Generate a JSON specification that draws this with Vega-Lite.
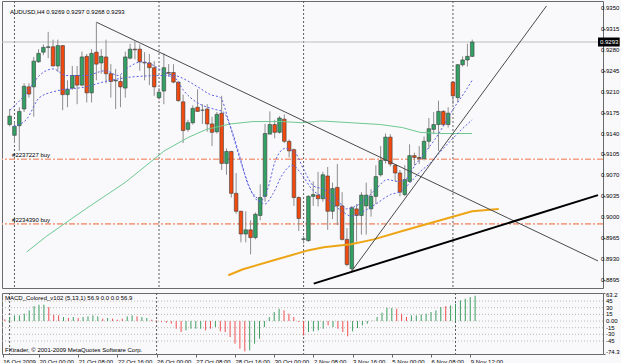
{
  "$schema": "https://vega.github.io/schema/vega-lite/v6.json",
  "padding": 0,
  "background": "#F9F9FC",
  "spacing": 2,
  "config": {
    "view": {"stroke": "#6A6A6A", "strokeWidth": 1},
    "axis": {"labelFont": "Liberation Sans", "labelFontSize": 6, "labelColor": "#000000", "tickColor": "#666666", "domain": false, "grid": false, "title": null, "labelOverlap": false},
    "text": {"font": "Liberation Sans", "fontSize": 6, "color": "#000000"}
  },
  "datasets": {
    "candles": [
      {"i":0,"o":0.9155,"h":0.9181,"l":0.9152,"c":0.9169},
      {"i":1,"o":0.9137,"h":0.9160,"l":0.9124,"c":0.9152},
      {"i":2,"o":0.9153,"h":0.9184,"l":0.9111,"c":0.9177},
      {"i":3,"o":0.9181,"h":0.9224,"l":0.9176,"c":0.9219},
      {"i":4,"o":0.9218,"h":0.9224,"l":0.9200,"c":0.9206},
      {"i":5,"o":0.9218,"h":0.9268,"l":0.9168,"c":0.9261},
      {"i":6,"o":0.9260,"h":0.9281,"l":0.9258,"c":0.9274},
      {"i":7,"o":0.9276,"h":0.9289,"l":0.9271,"c":0.9284},
      {"i":8,"o":0.9284,"h":0.9310,"l":0.9266,"c":0.9285},
      {"i":9,"o":0.9285,"h":0.9297,"l":0.9252,"c":0.9253},
      {"i":10,"o":0.9253,"h":0.9297,"l":0.9243,"c":0.9287},
      {"i":11,"o":0.9287,"h":0.9288,"l":0.9179,"c":0.9205},
      {"i":12,"o":0.9205,"h":0.9229,"l":0.9184,"c":0.9214},
      {"i":13,"o":0.9216,"h":0.9253,"l":0.9213,"c":0.9237},
      {"i":14,"o":0.9237,"h":0.9253,"l":0.9189,"c":0.9221},
      {"i":15,"o":0.9221,"h":0.9277,"l":0.9219,"c":0.9268},
      {"i":16,"o":0.9269,"h":0.9273,"l":0.9192,"c":0.9208},
      {"i":17,"o":0.9208,"h":0.9281,"l":0.9192,"c":0.9274},
      {"i":18,"o":0.9276,"h":0.9326,"l":0.9229,"c":0.9256},
      {"i":19,"o":0.9258,"h":0.9281,"l":0.9240,"c":0.9269},
      {"i":20,"o":0.9268,"h":0.9297,"l":0.9224,"c":0.9240},
      {"i":21,"o":0.9240,"h":0.9256,"l":0.9200,"c":0.9227},
      {"i":22,"o":0.9228,"h":0.9248,"l":0.9181,"c":0.9229},
      {"i":23,"o":0.9227,"h":0.9237,"l":0.9184,"c":0.9218},
      {"i":24,"o":0.9216,"h":0.9277,"l":0.9200,"c":0.9268},
      {"i":25,"o":0.9266,"h":0.9290,"l":0.9264,"c":0.9281},
      {"i":26,"o":0.9281,"h":0.9294,"l":0.9264,"c":0.9280},
      {"i":27,"o":0.9281,"h":0.9289,"l":0.9245,"c":0.9260},
      {"i":28,"o":0.9259,"h":0.9276,"l":0.9229,"c":0.9258},
      {"i":29,"o":0.9258,"h":0.9273,"l":0.9221,"c":0.9250},
      {"i":30,"o":0.9250,"h":0.9261,"l":0.9203,"c":0.9218},
      {"i":31,"o":0.9200,"h":0.9216,"l":0.9197,"c":0.9209},
      {"i":32,"o":0.9211,"h":0.9274,"l":0.9189,"c":0.9250},
      {"i":33,"o":0.9242,"h":0.9256,"l":0.9235,"c":0.9241},
      {"i":34,"o":0.9242,"h":0.9256,"l":0.9224,"c":0.9226},
      {"i":35,"o":0.9226,"h":0.9227,"l":0.9193,"c":0.9195},
      {"i":36,"o":0.9193,"h":0.9205,"l":0.9124,"c":0.9145},
      {"i":37,"o":0.9147,"h":0.9163,"l":0.9143,"c":0.9158},
      {"i":38,"o":0.9158,"h":0.9187,"l":0.9155,"c":0.9182},
      {"i":39,"o":0.9184,"h":0.9214,"l":0.9176,"c":0.9177},
      {"i":40,"o":0.9179,"h":0.9189,"l":0.9156,"c":0.9179},
      {"i":41,"o":0.9181,"h":0.9189,"l":0.9143,"c":0.9156},
      {"i":42,"o":0.9156,"h":0.9168,"l":0.9119,"c":0.9142},
      {"i":43,"o":0.9143,"h":0.9176,"l":0.9140,"c":0.9172},
      {"i":44,"o":0.9174,"h":0.9203,"l":0.9079,"c":0.9090},
      {"i":45,"o":0.9090,"h":0.9115,"l":0.9071,"c":0.9110},
      {"i":46,"o":0.9110,"h":0.9111,"l":0.9033,"c":0.9040},
      {"i":47,"o":0.9040,"h":0.9074,"l":0.9006,"c":0.9010},
      {"i":48,"o":0.9010,"h":0.9011,"l":0.8958,"c":0.8972},
      {"i":49,"o":0.8972,"h":0.9010,"l":0.8958,"c":0.8979},
      {"i":50,"o":0.8979,"h":0.8995,"l":0.8938,"c":0.8966},
      {"i":51,"o":0.8966,"h":0.9008,"l":0.8963,"c":0.9005},
      {"i":52,"o":0.9003,"h":0.9055,"l":0.8995,"c":0.9033},
      {"i":53,"o":0.9035,"h":0.9156,"l":0.9026,"c":0.9140},
      {"i":54,"o":0.9139,"h":0.9177,"l":0.9139,"c":0.9155},
      {"i":55,"o":0.9155,"h":0.9163,"l":0.9132,"c":0.9142},
      {"i":56,"o":0.9142,"h":0.9169,"l":0.9140,"c":0.9166},
      {"i":57,"o":0.9164,"h":0.9172,"l":0.9124,"c":0.9127},
      {"i":58,"o":0.9127,"h":0.9130,"l":0.9100,"c":0.9111},
      {"i":59,"o":0.9113,"h":0.9115,"l":0.9019,"c":0.9033},
      {"i":60,"o":0.9033,"h":0.9035,"l":0.8977,"c":0.8998},
      {"i":61,"o":0.8963,"h":0.8969,"l":0.8956,"c":0.8964},
      {"i":62,"o":0.8961,"h":0.9037,"l":0.8959,"c":0.9035},
      {"i":63,"o":0.9035,"h":0.9060,"l":0.9019,"c":0.9038},
      {"i":64,"o":0.9037,"h":0.9076,"l":0.9018,"c":0.9031},
      {"i":65,"o":0.9031,"h":0.9076,"l":0.9026,"c":0.9071},
      {"i":66,"o":0.9069,"h":0.9084,"l":0.8979,"c":0.9010},
      {"i":67,"o":0.9010,"h":0.9058,"l":0.8997,"c":0.9048},
      {"i":68,"o":0.9050,"h":0.9089,"l":0.8987,"c":0.9019},
      {"i":69,"o":0.9019,"h":0.9042,"l":0.8961,"c":0.8963},
      {"i":70,"o":0.8963,"h":0.8982,"l":0.8918,"c":0.8921},
      {"i":71,"o":0.8914,"h":0.9019,"l":0.8910,"c":0.9016},
      {"i":72,"o":0.9014,"h":0.9022,"l":0.8959,"c":0.9003},
      {"i":73,"o":0.9003,"h":0.9042,"l":0.8971,"c":0.9037},
      {"i":74,"o":0.9019,"h":0.9058,"l":0.8971,"c":0.9037},
      {"i":75,"o":0.9014,"h":0.9047,"l":0.9001,"c":0.9035},
      {"i":76,"o":0.9035,"h":0.9087,"l":0.9022,"c":0.9068},
      {"i":77,"o":0.9071,"h":0.9119,"l":0.9068,"c":0.9095},
      {"i":78,"o":0.9095,"h":0.9140,"l":0.9090,"c":0.9134},
      {"i":79,"o":0.9134,"h":0.9139,"l":0.9085,"c":0.9089},
      {"i":80,"o":0.9087,"h":0.9089,"l":0.9060,"c":0.9074},
      {"i":81,"o":0.9074,"h":0.9079,"l":0.9035,"c":0.9042},
      {"i":82,"o":0.9038,"h":0.9087,"l":0.9035,"c":0.9063},
      {"i":83,"o":0.9060,"h":0.9122,"l":0.9058,"c":0.9103},
      {"i":84,"o":0.9103,"h":0.9108,"l":0.9087,"c":0.9100},
      {"i":85,"o":0.9100,"h":0.9119,"l":0.9089,"c":0.9098},
      {"i":86,"o":0.9098,"h":0.9135,"l":0.9095,"c":0.9127},
      {"i":87,"o":0.9127,"h":0.9166,"l":0.9115,"c":0.9148},
      {"i":88,"o":0.9147,"h":0.9176,"l":0.9139,"c":0.9155},
      {"i":89,"o":0.9155,"h":0.9195,"l":0.9111,"c":0.9177},
      {"i":90,"o":0.9177,"h":0.9179,"l":0.9152,"c":0.9155},
      {"i":91,"o":0.9155,"h":0.9184,"l":0.9150,"c":0.9174},
      {"i":92,"o":0.9226,"h":0.9227,"l":0.9189,"c":0.9203},
      {"i":93,"o":0.9200,"h":0.9256,"l":0.9192,"c":0.9255},
      {"i":94,"o":0.9255,"h":0.9269,"l":0.9252,"c":0.9263},
      {"i":95,"o":0.9263,"h":0.9290,"l":0.9252,"c":0.9269},
      {"i":96,"o":0.9269,"h":0.9297,"l":0.9268,"c":0.9293}
    ],
    "ma": [
      {"s":"A","i":0.06,"p":0.9179},{"s":"A","i":3.53,"p":0.9208},{"s":"A","i":6.18,"p":0.9237},{"s":"A","i":9.04,"p":0.9248},{"s":"A","i":11.69,"p":0.9237},{"s":"A","i":15.78,"p":0.9237},{"s":"A","i":19.86,"p":0.9245},{"s":"A","i":22.51,"p":0.9237},{"s":"A","i":24.55,"p":0.9250},{"s":"A","i":27.41,"p":0.9260},{"s":"A","i":30.06,"p":0.9253},{"s":"A","i":32.1,"p":0.9242},{"s":"A","i":35.16,"p":0.9235},{"s":"A","i":38.84,"p":0.9219},{"s":"A","i":41.69,"p":0.9205},{"s":"A","i":43.73,"p":0.9200},{"s":"A","i":45.37,"p":0.9163},{"s":"A","i":46.8,"p":0.9124},{"s":"A","i":48.84,"p":0.9071},{"s":"A","i":50.47,"p":0.9038},{"s":"A","i":51.9,"p":0.9026},{"s":"A","i":53.53,"p":0.9047},{"s":"A","i":55.16,"p":0.9095},{"s":"A","i":57.2,"p":0.9115},{"s":"A","i":59.24,"p":0.9108},{"s":"A","i":61.08,"p":0.9079},{"s":"A","i":63.12,"p":0.9052},{"s":"A","i":65.16,"p":0.9047},{"s":"A","i":67.82,"p":0.9031},{"s":"A","i":69.86,"p":0.9014},{"s":"A","i":71.9,"p":0.9019},{"s":"A","i":73.94,"p":0.9031},{"s":"A","i":75.98,"p":0.9047},{"s":"A","i":78.43,"p":0.9063},{"s":"A","i":80.47,"p":0.9060},{"s":"A","i":82.1,"p":0.9063},{"s":"A","i":84.14,"p":0.9087},{"s":"A","i":86.18,"p":0.9108},{"s":"A","i":88.22,"p":0.9130},{"s":"A","i":90.27,"p":0.9156},{"s":"A","i":92.31,"p":0.9184},{"s":"A","i":94.35,"p":0.9208},{"s":"A","i":95.98,"p":0.9229},
      {"s":"B","i":0.88,"p":0.9152},{"s":"B","i":3.53,"p":0.9164},{"s":"B","i":6.18,"p":0.9200},{"s":"B","i":9.65,"p":0.9211},{"s":"B","i":15.78,"p":0.9218},{"s":"B","i":19.86,"p":0.9227},{"s":"B","i":25.98,"p":0.9235},{"s":"B","i":32.1,"p":0.9237},{"s":"B","i":34.14,"p":0.9234},{"s":"B","i":36.18,"p":0.9211},{"s":"B","i":38.84,"p":0.9192},{"s":"B","i":42.31,"p":0.9181},{"s":"B","i":44.35,"p":0.9176},{"s":"B","i":45.98,"p":0.9148},{"s":"B","i":47.82,"p":0.9100},{"s":"B","i":49.45,"p":0.9055},{"s":"B","i":51.49,"p":0.9031},{"s":"B","i":52.92,"p":0.9022},{"s":"B","i":54.55,"p":0.9038},{"s":"B","i":56.59,"p":0.9071},{"s":"B","i":58.63,"p":0.9087},{"s":"B","i":60.67,"p":0.9071},{"s":"B","i":62.71,"p":0.9047},{"s":"B","i":65.78,"p":0.9031},{"s":"B","i":68.84,"p":0.9011},{"s":"B","i":70.88,"p":0.9002},{"s":"B","i":72.92,"p":0.9008},{"s":"B","i":75.98,"p":0.9022},{"s":"B","i":79.04,"p":0.9038},{"s":"B","i":81.08,"p":0.9043},{"s":"B","i":83.12,"p":0.9058},{"s":"B","i":85.16,"p":0.9076},{"s":"B","i":87.2,"p":0.9090},{"s":"B","i":89.24,"p":0.9108},{"s":"B","i":91.29,"p":0.9126},{"s":"B","i":93.33,"p":0.9143},{"s":"B","i":95.98,"p":0.9163},
      {"s":"G","i":3.53,"p":0.8942},{"s":"G","i":7.61,"p":0.8968},{"s":"G","i":15.78,"p":0.9014},{"s":"G","i":23.94,"p":0.9058},{"s":"G","i":32.1,"p":0.9111},{"s":"G","i":37.2,"p":0.9134},{"s":"G","i":40.88,"p":0.9147},{"s":"G","i":45.78,"p":0.9156},{"s":"G","i":50.47,"p":0.9160},{"s":"G","i":56.59,"p":0.9160},{"s":"G","i":60.67,"p":0.9158},{"s":"G","i":64.76,"p":0.9161},{"s":"G","i":70.88,"p":0.9158},{"s":"G","i":77.0,"p":0.9155},{"s":"G","i":81.49,"p":0.9150},{"s":"G","i":85.16,"p":0.9142},{"s":"G","i":89.24,"p":0.9140},{"s":"G","i":95.98,"p":0.9140},
      {"s":"O","i":45.37,"p":0.8903},{"s":"O","i":48.43,"p":0.8913},{"s":"O","i":55.16,"p":0.8929},{"s":"O","i":62.1,"p":0.8945},{"s":"O","i":65.16,"p":0.8950},{"s":"O","i":70.88,"p":0.8955},{"s":"O","i":75.57,"p":0.8963},{"s":"O","i":81.49,"p":0.8977},{"s":"O","i":90.67,"p":0.8998},{"s":"O","i":95.98,"p":0.9010},{"s":"O","i":101.5,"p":0.9014}
    ],
    "trend": [
      {"t":"L1","i":18.04,"p":0.9326},{"t":"L1","i":122.1,"p":0.8927},
      {"t":"L2","i":71.0,"p":0.8910},{"t":"L2","i":111.4,"p":0.93532},
      {"t":"L3","i":63.1,"p":0.8889},{"t":"L3","i":122.1,"p":0.9037}
    ],
    "orders": [
      {"p":0.9097,"lbl":"#2237227 buy"},
      {"p":0.8989,"lbl":"#2234390 buy"}
    ],
    "plabels": [
      {"v":0.935,"t":"0.9350"},{"v":0.9315,"t":"0.9315"},{"v":0.928,"t":"0.9280"},{"v":0.9245,"t":"0.9245"},{"v":0.921,"t":"0.9210"},{"v":0.9175,"t":"0.9175"},{"v":0.914,"t":"0.9140"},
      {"v":0.9105,"t":"0.9105"},{"v":0.907,"t":"0.9070"},{"v":0.9035,"t":"0.9035"},{"v":0.9,"t":"0.9000"},{"v":0.8965,"t":"0.8965"},{"v":0.893,"t":"0.8930"},{"v":0.8895,"t":"0.8895"}
    ],
    "mlevels": [
      {"v":45,"t":"45"},{"v":30,"t":"30"},{"v":15,"t":"15"},{"v":0,"t":"0.00"},{"v":-15,"t":"-15"},{"v":-30,"t":"-30"},{"v":-45,"t":"-45"}
    ],
    "seps": [{"i":1},{"i":31},{"i":61},{"i":92}],
    "macd": [
      {"i":0,"v":3.75,"d":"d"},{"i":1,"v":9,"d":"u"},{"i":2,"v":12.75,"d":"u"},{"i":3,"v":12.75,"d":"u"},{"i":4,"v":16.5,"d":"u"},{"i":5,"v":24,"d":"u"},{"i":6,"v":33.75,"d":"u"},{"i":7,"v":36.75,"d":"u"},{"i":8,"v":36.75,"d":"u"},{"i":9,"v":31.5,"d":"d"},
      {"i":10,"v":14,"d":"d"},{"i":11,"v":12.75,"d":"d"},{"i":12,"v":9,"d":"u"},{"i":13,"v":6.75,"d":"d"},{"i":14,"v":9,"d":"u"},{"i":15,"v":6.75,"d":"d"},{"i":16,"v":9,"d":"u"},{"i":17,"v":10.5,"d":"u"},{"i":18,"v":12.75,"d":"u"},{"i":19,"v":10.5,"d":"u"},
      {"i":20,"v":5.25,"d":"d"},{"i":21,"v":6.75,"d":"u"},{"i":22,"v":5.25,"d":"d"},{"i":23,"v":3,"d":"d"},{"i":24,"v":5.25,"d":"d"},{"i":25,"v":10.5,"d":"u"},{"i":26,"v":12.75,"d":"u"},{"i":27,"v":10.5,"d":"d"},{"i":28,"v":9,"d":"u"},{"i":29,"v":6.75,"d":"u"},
      {"i":30,"v":3,"d":"d"},{"i":31,"v":1.5,"d":"d"},{"i":32,"v":-2.25,"d":"d"},{"i":33,"v":-3.75,"d":"d"},{"i":34,"v":-6,"d":"d"},{"i":35,"v":-17.25,"d":"d"},{"i":36,"v":-24.75,"d":"d"},{"i":37,"v":-21,"d":"u"},{"i":38,"v":-17.25,"d":"u"},{"i":39,"v":-17.25,"d":"u"},
      {"i":40,"v":-17.25,"d":"u"},{"i":41,"v":-21,"d":"d"},{"i":42,"v":-17.25,"d":"d"},{"i":43,"v":-13.5,"d":"u"},{"i":44,"v":-23.25,"d":"d"},{"i":45,"v":-24.75,"d":"d"},{"i":46,"v":-36,"d":"d"},{"i":47,"v":-51,"d":"d"},{"i":48,"v":-62.25,"d":"d"},{"i":49,"v":-68.25,"d":"d"},
      {"i":50,"v":-66,"d":"u"},{"i":51,"v":-51,"d":"u"},{"i":52,"v":-39.75,"d":"u"},{"i":53,"v":-13.5,"d":"u"},{"i":54,"v":9,"d":"u"},{"i":55,"v":20.25,"d":"u"},{"i":56,"v":27.75,"d":"u"},{"i":57,"v":24,"d":"d"},{"i":58,"v":16.5,"d":"d"},{"i":59,"v":9,"d":"d"},
      {"i":60,"v":-2.25,"d":"d"},{"i":61,"v":-32.25,"d":"d"},{"i":62,"v":-24.75,"d":"u"},{"i":63,"v":-23.25,"d":"u"},{"i":64,"v":-21,"d":"u"},{"i":65,"v":-17.25,"d":"u"},{"i":66,"v":-9.75,"d":"d"},{"i":67,"v":-13.5,"d":"u"},{"i":68,"v":-17.25,"d":"d"},{"i":69,"v":-24.75,"d":"d"},
      {"i":70,"v":-34.5,"d":"d"},{"i":71,"v":-23.25,"d":"u"},{"i":72,"v":-15.75,"d":"u"},{"i":73,"v":-9.75,"d":"u"},{"i":74,"v":-6,"d":"u"},{"i":75,"v":1,"d":"u"},{"i":76,"v":9,"d":"u"},{"i":77,"v":18.75,"d":"u"},{"i":78,"v":30,"d":"u"},{"i":79,"v":29.25,"d":"u"},
      {"i":80,"v":27.75,"d":"d"},{"i":81,"v":16.5,"d":"d"},{"i":82,"v":9,"d":"d"},{"i":83,"v":12.75,"d":"u"},{"i":84,"v":12.75,"d":"u"},{"i":85,"v":15,"d":"u"},{"i":86,"v":16.5,"d":"u"},{"i":87,"v":20.25,"d":"u"},{"i":88,"v":24,"d":"u"},{"i":89,"v":31.5,"d":"u"},
      {"i":90,"v":33.75,"d":"d"},{"i":91,"v":35.25,"d":"u"},{"i":92,"v":39,"d":"u"},{"i":93,"v":46.5,"d":"u"},{"i":94,"v":50.25,"d":"u"},{"i":95,"v":54,"d":"u"},{"i":96,"v":56.9,"d":"u"}
    ]
  },
  "vconcat": [
    {
      "width": 601,
      "height": 287,
      "layer": [
        {
          "data": {"name": "seps"},
          "mark": {"type": "rule", "color": "#5C5C5C", "strokeDash": [2, 2], "strokeWidth": 1},
          "encoding": {"x": {"field": "i", "type": "quantitative", "scale": {"domain": [-0.55, 122.1], "nice": false, "zero": false}, "axis": null}}
        },
        {
          "data": {"name": "orders"},
          "mark": {"type": "rule", "color": "#F4A286", "strokeDash": [6, 2, 2, 2], "strokeWidth": 1.6},
          "encoding": {"y": {"field": "p", "type": "quantitative", "scale": {"domain": [0.88901, 0.93532], "nice": false, "zero": false},
            "axis": {"orient": "right", "values": [0.935, 0.9315, 0.928, 0.9245, 0.921, 0.9175, 0.914, 0.9105, 0.907, 0.9035, 0.9, 0.8965, 0.893, 0.8895], "tickSize": 2, "labels": false}}}
        },
        {
          "data": {"name": "orders"},
          "mark": {"type": "text", "align": "left", "baseline": "bottom", "dy": -1},
          "encoding": {
            "x": {"datum": 0.5, "type": "quantitative", "scale": {"domain": [-0.55, 122.1], "nice": false, "zero": false}, "axis": null},
            "y": {"field": "p", "type": "quantitative", "scale": {"domain": [0.88901, 0.93532], "nice": false, "zero": false}},
            "text": {"field": "lbl"}
          }
        },
        {
          "data": {"values": [{"p": 0.9293}]},
          "mark": {"type": "rule", "color": "#BDBDBD", "strokeWidth": 1},
          "encoding": {"y": {"field": "p", "type": "quantitative", "scale": {"domain": [0.88901, 0.93532], "nice": false, "zero": false}}}
        },
        {
          "data": {"name": "candles"},
          "mark": {"type": "rule", "color": "#8E8E8E", "strokeWidth": 1},
          "encoding": {
            "x": {"field": "i", "type": "quantitative", "scale": {"domain": [-0.55, 122.1], "nice": false, "zero": false}, "axis": null},
            "y": {"field": "l", "type": "quantitative", "scale": {"domain": [0.88901, 0.93532], "nice": false, "zero": false}},
            "y2": {"field": "h"}
          }
        },
        {
          "data": {"name": "candles"},
          "mark": {"type": "bar", "size": 3.6, "stroke": "#3C3C3C", "strokeWidth": 0.6},
          "encoding": {
            "x": {"field": "i", "type": "quantitative", "scale": {"domain": [-0.55, 122.1], "nice": false, "zero": false}, "axis": null},
            "y": {"field": "o", "type": "quantitative", "scale": {"domain": [0.88901, 0.93532], "nice": false, "zero": false}},
            "y2": {"field": "c"},
            "color": {"condition": {"test": "datum.c >= datum.o", "value": "#33A164"}, "value": "#F24A0E"}
          }
        },
        {
          "data": {"name": "ma"},
          "transform": [{"filter": "datum.s == 'G'"}],
          "mark": {"type": "line", "color": "#6FC891", "strokeWidth": 1, "clip": true},
          "encoding": {
            "x": {"field": "i", "type": "quantitative", "scale": {"domain": [-0.55, 122.1], "nice": false, "zero": false}, "axis": null},
            "y": {"field": "p", "type": "quantitative", "scale": {"domain": [0.88901, 0.93532], "nice": false, "zero": false}}
          }
        },
        {
          "data": {"name": "ma"},
          "transform": [{"filter": "datum.s == 'O'"}],
          "mark": {"type": "line", "color": "#EDA516", "strokeWidth": 2, "clip": true},
          "encoding": {
            "x": {"field": "i", "type": "quantitative", "scale": {"domain": [-0.55, 122.1], "nice": false, "zero": false}, "axis": null},
            "y": {"field": "p", "type": "quantitative", "scale": {"domain": [0.88901, 0.93532], "nice": false, "zero": false}}
          }
        },
        {
          "data": {"name": "ma"},
          "transform": [{"filter": "datum.s == 'A' || datum.s == 'B'"}],
          "mark": {"type": "line", "color": "#5A5FE0", "strokeWidth": 1, "strokeDash": [2, 2], "interpolate": "monotone", "clip": true},
          "encoding": {
            "x": {"field": "i", "type": "quantitative", "scale": {"domain": [-0.55, 122.1], "nice": false, "zero": false}, "axis": null},
            "y": {"field": "p", "type": "quantitative", "scale": {"domain": [0.88901, 0.93532], "nice": false, "zero": false}},
            "detail": {"field": "s"}
          }
        },
        {
          "data": {"name": "trend"},
          "transform": [{"filter": "datum.t != 'L3'"}],
          "mark": {"type": "line", "color": "#4A4A4A", "strokeWidth": 1, "clip": true},
          "encoding": {
            "x": {"field": "i", "type": "quantitative", "scale": {"domain": [-0.55, 122.1], "nice": false, "zero": false}, "axis": null},
            "y": {"field": "p", "type": "quantitative", "scale": {"domain": [0.88901, 0.93532], "nice": false, "zero": false}},
            "detail": {"field": "t"}
          }
        },
        {
          "data": {"name": "trend"},
          "transform": [{"filter": "datum.t == 'L3'"}],
          "mark": {"type": "line", "color": "#000000", "strokeWidth": 2, "clip": true},
          "encoding": {
            "x": {"field": "i", "type": "quantitative", "scale": {"domain": [-0.55, 122.1], "nice": false, "zero": false}, "axis": null},
            "y": {"field": "p", "type": "quantitative", "scale": {"domain": [0.88901, 0.93532], "nice": false, "zero": false}}
          }
        },
        {
          "data": {"values": [{"t": "AUDUSD,H4  0.9269 0.9297 0.9268 0.9293"}]},
          "mark": {"type": "text", "align": "left", "baseline": "middle"},
          "encoding": {
            "x": {"datum": 0.06, "type": "quantitative", "scale": {"domain": [-0.55, 122.1], "nice": false, "zero": false}, "axis": null},
            "y": {"datum": 0.93435, "type": "quantitative", "scale": {"domain": [0.88901, 0.93532], "nice": false, "zero": false}},
            "text": {"field": "t"}
          }
        },
        {
          "data": {"name": "plabels"},
          "mark": {"type": "text", "align": "left", "baseline": "middle", "dx": 3, "clip": false},
          "encoding": {
            "x": {"datum": 122.1, "type": "quantitative", "scale": {"domain": [-0.55, 122.1], "nice": false, "zero": false}, "axis": null},
            "y": {"field": "v", "type": "quantitative", "scale": {"domain": [0.88901, 0.93532], "nice": false, "zero": false}},
            "text": {"field": "t"}
          }
        },
        {
          "data": {"values": [{"p": 0.9293, "lbl": "0.9293"}]},
          "layer": [
            {
              "mark": {"type": "bar", "size": 9, "color": "#000000", "clip": false, "orient": "horizontal"},
              "encoding": {
                "x": {"datum": 122.1, "type": "quantitative", "scale": {"domain": [-0.55, 122.1], "nice": false, "zero": false}, "axis": null},
                "x2": {"datum": 126.6},
                "y": {"field": "p", "type": "quantitative", "scale": {"domain": [0.88901, 0.93532], "nice": false, "zero": false}}
              }
            },
            {
              "mark": {"type": "text", "align": "left", "baseline": "middle", "color": "#FFFFFF", "dx": 2},
              "encoding": {
                "x": {"datum": 122.1, "type": "quantitative", "scale": {"domain": [-0.55, 122.1], "nice": false, "zero": false}, "axis": null},
                "y": {"field": "p", "type": "quantitative", "scale": {"domain": [0.88901, 0.93532], "nice": false, "zero": false}},
                "text": {"field": "lbl"}
              }
            }
          ]
        }
      ]
    },
    {
      "width": 601,
      "height": 61,
      "layer": [
        {
          "data": {"name": "mlevels"},
          "mark": {"type": "rule", "color": "#BDB8B0", "strokeDash": [1, 2], "strokeWidth": 1},
          "encoding": {"y": {"field": "v", "type": "quantitative", "scale": {"domain": [-74.3, 63.2], "nice": false, "zero": false},
            "axis": {"orient": "right", "values": [63.2, 45, 30, 15, 0, -15, -30, -45, -74.3], "tickSize": 2, "labels": false}}}
        },
        {
          "data": {"name": "seps"},
          "mark": {"type": "rule", "color": "#5C5C5C", "strokeDash": [2, 2], "strokeWidth": 1},
          "encoding": {"x": {"field": "i", "type": "quantitative", "scale": {"domain": [-0.55, 122.1], "nice": false, "zero": false},
            "axis": {"orient": "bottom", "values": [-0.4, 7, 15, 23, 31, 39, 47, 55, 63, 71, 79, 87, 95], "tickSize": 3, "labelAlign": "left", "labelDx": 3, "labelPadding": 1, "labelFlush": false, "labelOverlap": false, "labelBound": false,
              "labelExpr": "datum.value < 0 ? '16 Oct 2009' : datum.value == 7 ? '20 Oct 00:00' : datum.value == 15 ? '21 Oct 08:00' : datum.value == 23 ? '22 Oct 16:00' : datum.value == 31 ? '26 Oct 00:00' : datum.value == 39 ? '27 Oct 08:00' : datum.value == 47 ? '28 Oct 16:00' : datum.value == 55 ? '30 Oct 00:00' : datum.value == 63 ? '2 Nov 08:00' : datum.value == 71 ? '3 Nov 16:00' : datum.value == 79 ? '5 Nov 00:00' : datum.value == 87 ? '6 Nov 08:00' : '9 Nov 12:00'"}}}
        },
        {
          "data": {"name": "macd"},
          "mark": {"type": "rule", "strokeWidth": 1},
          "encoding": {
            "x": {"field": "i", "type": "quantitative", "scale": {"domain": [-0.55, 122.1], "nice": false, "zero": false}},
            "y": {"field": "v", "type": "quantitative", "scale": {"domain": [-74.3, 63.2], "nice": false, "zero": false}},
            "y2": {"datum": 0},
            "color": {"field": "d", "type": "nominal", "scale": {"domain": ["u", "d"], "range": ["#3E9E62", "#F05050"]}, "legend": null}
          }
        },
        {
          "data": {"name": "mlevels"},
          "mark": {"type": "text", "align": "left", "baseline": "middle", "dx": 3, "clip": false},
          "encoding": {
            "x": {"datum": 122.1, "type": "quantitative", "scale": {"domain": [-0.55, 122.1], "nice": false, "zero": false}},
            "y": {"field": "v", "type": "quantitative", "scale": {"domain": [-74.3, 63.2], "nice": false, "zero": false}},
            "text": {"field": "t"}
          }
        },
        {
          "data": {"values": [{"t": "63.2", "v": 59.5}, {"t": "-74.3", "v": -70.5}]},
          "mark": {"type": "text", "align": "left", "baseline": "middle", "dx": 3, "clip": false},
          "encoding": {
            "x": {"datum": 122.1, "type": "quantitative", "scale": {"domain": [-0.55, 122.1], "nice": false, "zero": false}},
            "y": {"field": "v", "type": "quantitative", "scale": {"domain": [-74.3, 63.2], "nice": false, "zero": false}},
            "text": {"field": "t"}
          }
        },
        {
          "data": {"values": [{"t": "MACD_Colored_v102 (5,13,1) 56.9 0.0 0.0 56.9", "v": 52}, {"t": "FXtrader, © 2001-2009 MetaQuotes Software Corp.", "v": -64.3}]},
          "mark": {"type": "text", "align": "left", "baseline": "middle"},
          "encoding": {
            "x": {"datum": 0.06, "type": "quantitative", "scale": {"domain": [-0.55, 122.1], "nice": false, "zero": false}},
            "y": {"field": "v", "type": "quantitative", "scale": {"domain": [-74.3, 63.2], "nice": false, "zero": false}},
            "text": {"field": "t"}
          }
        }
      ]
    }
  ]
}
